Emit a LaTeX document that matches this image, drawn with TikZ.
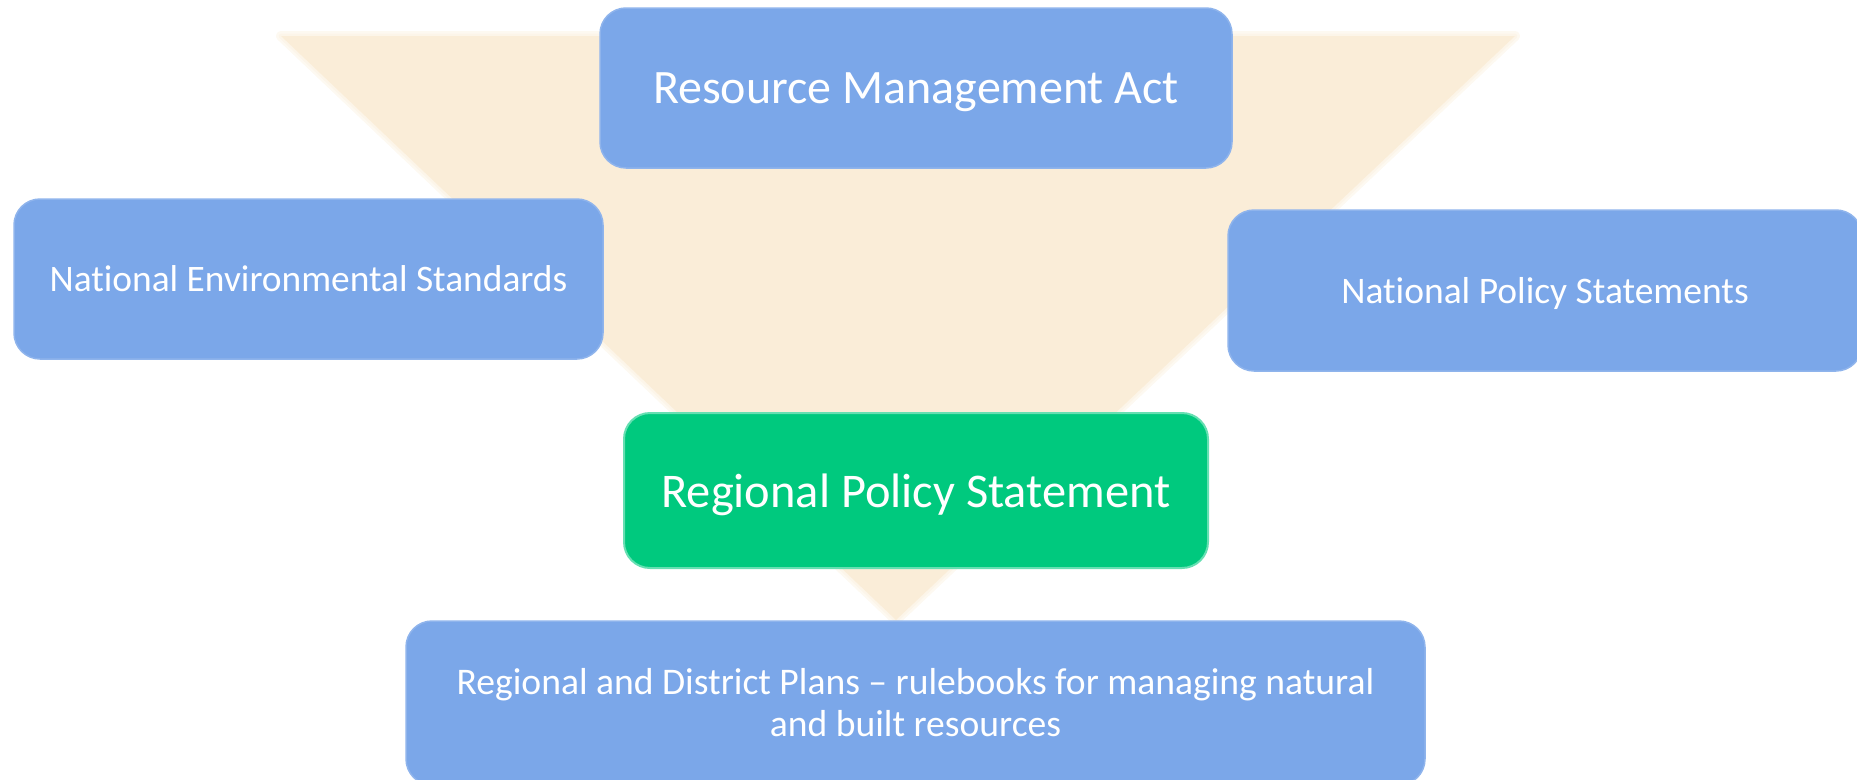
\documentclass[tikz,border=0pt]{standalone}
\usepackage{fontspec}
\setmainfont{Carlito}[Ligatures=NoCommon]
\usepackage{tikz}
\pgfdeclarelayer{bg}
\pgfsetlayers{bg,main}
\definecolor{boxblue}{RGB}{123,167,233}
\definecolor{boxgreen}{RGB}{0,201,126}
\definecolor{cream}{RGB}{250,237,216}
\tikzset{
    every node/.style={rectangle, rounded corners=26pt, inner sep=0pt, text=white, align=center}
}
\tikzset{actbox/.style={fill=boxblue, draw=boxblue!85!white, line width=1.5pt}}
\tikzset{rpsbox/.style={fill=boxgreen, draw=boxgreen!60!white, line width=2pt}}
\tikzset{soft/.style={draw=cream, line join=round, opacity=.35}}

\begin{document}
\begin{tikzpicture}[x=1pt, y=-1pt]
        \useasboundingbox (0,0) rectangle (1857,779);
        \coordinate (tl) at (281,36);
        \coordinate (tr) at (1515,36);
        \coordinate (tip) at (896,620);
        \node (rma) [actbox, text depth=0pt, minimum width=632pt, minimum height=160pt, font=\fontsize{48}{58}\selectfont] at (916,88) {Resource Management Act};
        \node (nes) [actbox, minimum width=589pt, minimum height=160pt, font=\fontsize{37.4}{45}\selectfont] at (308.5,279) {National Environmental Standards};
        \node (nps) [actbox, text depth=0pt, minimum width=634pt, minimum height=161pt, font=\fontsize{37.5}{45}\selectfont] at (1545,290.5) {National Policy Statements};
        \node (rps) [rpsbox, text depth=0pt, minimum width=584pt, minimum height=155pt, font=\fontsize{48.4}{58}\selectfont] at (916,490.5) {Regional Policy Statement};
        \node (plans) [actbox, minimum width=1019pt, minimum height=164pt, font=\fontsize{37.6}{42}\selectfont] at (915.5,703) {Regional and District Plans -- rulebooks for managing natural\\and built resources};
        \begin{pgfonlayer}{bg}
                \fill [cream] (tl) -- (tr) -- (tip) -- cycle;
                \draw [soft, line width=10pt] (tl) -- (tr) -- (tip) -- cycle;
                \draw [soft, line width=5pt] (tl) -- (tr) -- (tip) -- cycle;
        \end{pgfonlayer}
\end{tikzpicture}
\end{document}
